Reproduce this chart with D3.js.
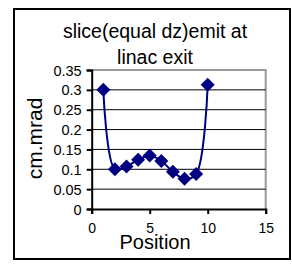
<!DOCTYPE html>
<html>
<head>
<meta charset="utf-8">
<script src="https://cdn.jsdelivr.net/npm/d3@7"></script>
<style>
  body { margin: 0; background: #fff; }
  text { font-family: Arial, "Liberation Sans", sans-serif; fill: #000; }
</style>
</head>
<body>
<div id="chart"></div>
<script>
// data
var positions = [1, 2, 3, 4, 5, 6, 7, 8, 9, 10]
var emittance = [0.30, 0.10, 0.107, 0.124, 0.135, 0.121, 0.094, 0.076, 0.088, 0.313]
var xTicks = [0, 5, 10, 15]
var yTicks = [0, 0.05, 0.1, 0.15, 0.2, 0.25, 0.3, 0.35]
var titleLines = ["slice(equal dz)emit at", "linac exit"]

var width = 292, height = 266

var svg = d3.select("#chart").append("svg")
    .attr("width", width)
    .attr("height", height)

// outer frame
svg.append("rect")
    .attr("x", 14).attr("y", 9)
    .attr("width", 276).attr("height", 250)
    .attr("fill", "none")
    .attr("stroke", "#000")
    .attr("stroke-width", 2)

var x = d3.scaleLinear().domain([0, 15]).range([91.7, 265.7])
var y = d3.scaleLinear().domain([0, 0.35]).range([209, 70])

// plot area border (grey on top and right)
svg.append("path")
    .attr("d", "M" + x(0) + "," + y(0.35) + "H" + x(15) + "V" + y(0))
    .attr("fill", "none")
    .attr("stroke", "#999")
    .attr("stroke-width", 2)

// gridlines
svg.append("g")
  .selectAll("line")
  .data(yTicks.filter(function(d) { return d > 0 && d < 0.35 }))
  .enter()
  .append("line")
    .attr("x1", x(0)).attr("x2", x(15))
    .attr("y1", function(d) { return y(d) })
    .attr("y2", function(d) { return y(d) })
    .attr("stroke", "#000")
    .attr("stroke-width", 1)

// axes
var yAxis = svg.append("g")
    .attr("transform", "translate(" + x(0) + ",0)")
    .call(d3.axisLeft(y).tickValues(yTicks).tickSize(5).tickPadding(5)
      .tickFormat(function(d) { return d3.format("")(+d.toFixed(2)) }))
yAxis.selectAll("text").style("font-size", "14.5px").attr("dy", "0.35em")

var xAxis = svg.append("g")
    .attr("transform", "translate(0," + y(0) + ")")
    .call(d3.axisBottom(x).tickValues(xTicks).tickSize(5).tickPadding(9))
xAxis.selectAll("text").style("font-size", "14px")

svg.selectAll(".domain").attr("stroke", "#000").attr("stroke-width", 2)
svg.selectAll(".tick line").attr("stroke", "#000").attr("stroke-width", 2)

// line
var points = positions.map(function(p, i) { return [p, emittance[i]] })
var line = d3.line()
    .x(function(d) { return x(d[0]) })
    .y(function(d) { return y(d[1]) })
    .curve(d3.curveCatmullRom.alpha(0.5))

svg.append("path")
    .datum(points)
    .attr("d", line)
    .attr("fill", "none")
    .attr("stroke", "#000080")
    .attr("stroke-width", 2)

// diamond markers
svg.append("g")
  .selectAll("path")
  .data(points)
  .enter()
  .append("path")
    .attr("d", "M0,-7L7,0L0,7L-7,0Z")
    .attr("transform", function(d) { return "translate(" + x(d[0]) + "," + y(d[1]) + ")" })
    .attr("fill", "#000080")

// title
svg.append("g")
  .selectAll("text")
  .data(titleLines)
  .enter()
  .append("text")
    .attr("x", 155)
    .attr("y", function(d, i) { return 37.7 + i * 26.3 })
    .attr("text-anchor", "middle")
    .style("font-size", "19.5px")
    .text(function(d) { return d })

// axis titles
svg.append("text")
    .attr("x", 155)
    .attr("y", 248.5)
    .attr("text-anchor", "middle")
    .style("font-size", "20px")
    .text("Position")

svg.append("text")
    .attr("transform", "translate(41.5,138.5) rotate(-90)")
    .attr("text-anchor", "middle")
    .style("font-size", "21px")
    .text("cm.mrad")
</script>
</body>
</html>
